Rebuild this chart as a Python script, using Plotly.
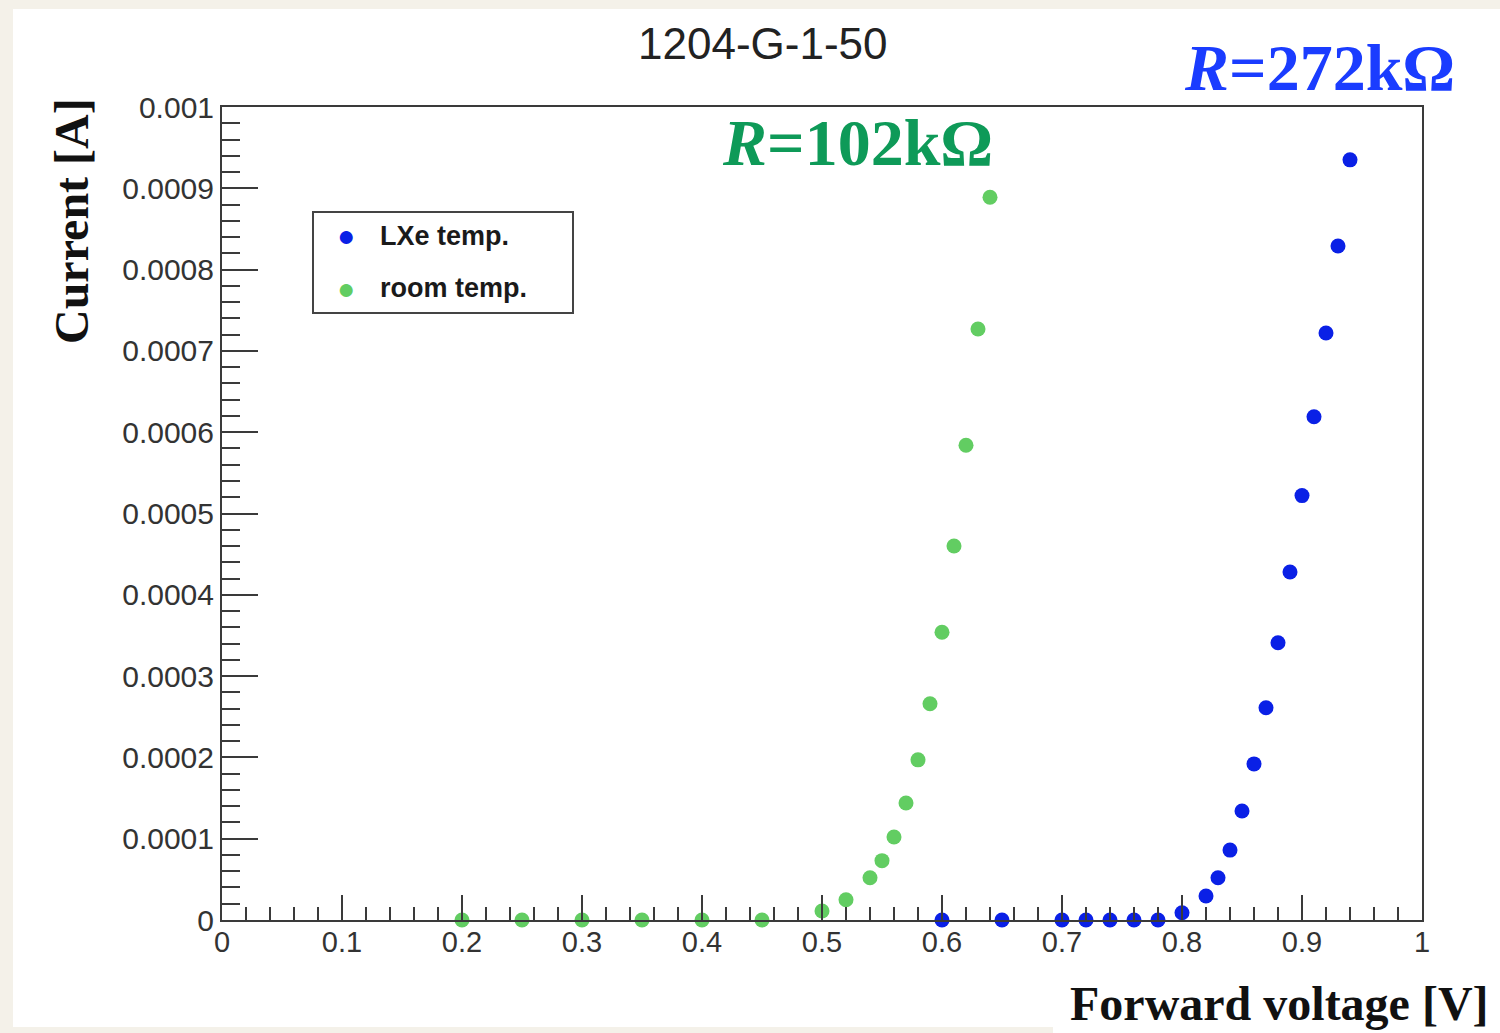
import plotly.graph_objects as go

# Forward I-V scan of diode 1204-G-1-50 at two temperatures
room_v = [0.20, 0.25, 0.30, 0.35, 0.40, 0.45, 0.50, 0.52, 0.54, 0.55, 0.56,
          0.57, 0.58, 0.59, 0.60, 0.61, 0.62, 0.63, 0.64]
room_i = [0.0, 0.0, 0.0, 0.0, 0.0, 0.0, 1.1e-5, 2.5e-5, 5.2e-5, 7.3e-5, 1.02e-4,
          1.44e-4, 1.97e-4, 2.66e-4, 3.54e-4, 4.60e-4, 5.84e-4, 7.27e-4, 8.89e-4]

lxe_v = [0.60, 0.65, 0.70, 0.72, 0.74, 0.76, 0.78, 0.80, 0.82, 0.83, 0.84,
         0.85, 0.86, 0.87, 0.88, 0.89, 0.90, 0.91, 0.92, 0.93, 0.94]
lxe_i = [0.0, 0.0, 0.0, 0.0, 0.0, 0.0, 0.0, 9e-6, 2.95e-5, 5.2e-5, 8.6e-5,
         1.34e-4, 1.92e-4, 2.61e-4, 3.41e-4, 4.28e-4, 5.22e-4, 6.19e-4, 7.22e-4,
         8.29e-4, 9.35e-4]

series_names = ["LXe temp.", "room temp."]

y_tickvals = [0.0, 0.0001, 0.0002, 0.0003, 0.0004, 0.0005, 0.0006, 0.0007,
              0.0008, 0.0009, 0.001]
y_ticktext = ["0", "0.0001", "0.0002", "0.0003", "0.0004", "0.0005", "0.0006",
              "0.0007", "0.0008", "0.0009", "0.001"]
x_tickvals = [0, 0.1, 0.2, 0.3, 0.4, 0.5, 0.6, 0.7, 0.8, 0.9, 1.0]
x_ticktext = ["0", "0.1", "0.2", "0.3", "0.4", "0.5", "0.6", "0.7", "0.8", "0.9", "1"]

W, H = 1500, 1033
L, R, T, B = 222, 78, 107, 113
PW, PH = W - L - R, H - T - B


def px(x):
    return (x - L) / PW


def py(y):
    return (H - B - y) / PH


BLUE = "#0a20e6"
GREEN = "#62cd62"
AXIS = "#3a3a3a"
SANS = "Liberation Sans, Arial, sans-serif"
SERIF = "Liberation Serif, Times New Roman, serif"

fig = go.Figure()
fig.add_trace(go.Scatter(
    x=lxe_v, y=lxe_i, mode="markers", name=series_names[0],
    marker=dict(color=BLUE, size=15, line=dict(width=0)), cliponaxis=False))
fig.add_trace(go.Scatter(
    x=room_v, y=room_i, mode="markers", name=series_names[1],
    marker=dict(color=GREEN, size=15, line=dict(width=0)), cliponaxis=False))


def ann(text, x, y, size, color, family=SANS, weight="normal", xanchor="center", angle=0):
    return dict(text=text, x=px(x), y=py(y), xref="paper", yref="paper",
                showarrow=False, xanchor=xanchor, yanchor="middle", textangle=angle,
                font=dict(family=family, size=size, color=color, weight=weight))


# boxed legend in the upper-left part of the frame
legend_items = []
for name, colr, yy in [(series_names[0], BLUE, 236), (series_names[1], GREEN, 288)]:
    legend_items.append(ann("●", 346, yy, 30, colr))
    legend_items.append(ann(name, 378, yy, 27, "#1a1a1a", weight="bold", xanchor="left"))

fig.update_layout(
    width=W, height=H,
    margin=dict(l=L, r=R, t=T, b=B),
    paper_bgcolor="#f4f1e9",
    plot_bgcolor="white",
    showlegend=False,
    xaxis=dict(
        range=[0, 1], showgrid=False, zeroline=False,
        showline=True, linecolor=AXIS, linewidth=2, mirror=True,
        ticks="inside", ticklen=25, tickwidth=2, tickcolor=AXIS,
        tickvals=x_tickvals, ticktext=x_ticktext, ticklabelstandoff=-5,
        tickfont=dict(family=SANS, size=29, color="#333"),
        minor=dict(dtick=0.02, ticks="inside", ticklen=13, tickwidth=2, tickcolor=AXIS),
    ),
    yaxis=dict(
        range=[0, 0.001], showgrid=False, zeroline=False,
        showline=True, linecolor=AXIS, linewidth=2, mirror=True,
        ticks="inside", ticklen=36, tickwidth=2, tickcolor=AXIS,
        tickvals=y_tickvals, ticktext=y_ticktext,
        tickfont=dict(family=SANS, size=30, color="#333"),
        minor=dict(dtick=0.00002, ticks="inside", ticklen=18, tickwidth=2, tickcolor=AXIS),
    ),
    shapes=[
        dict(type="rect", xref="paper", yref="paper", layer="below",
             x0=px(13), x1=px(W), y0=py(1027), y1=py(9),
             fillcolor="white", line=dict(width=0)),
        dict(type="rect", xref="paper", yref="paper", layer="below",
             x0=px(1053), x1=px(W), y0=py(H), y1=py(983),
             fillcolor="white", line=dict(width=0)),
        dict(type="rect", xref="paper", yref="paper", layer="above",
             x0=px(313), x1=px(573), y0=py(313), y1=py(212),
             fillcolor="rgba(0,0,0,0)", line=dict(color="#444", width=2)),
    ],
    annotations=[
        ann("1204-G-1-50", 762, 44, 44, "#222"),
        ann("<i>R</i>=272kΩ", 1457, 67, 66, "#1a3cff", SERIF, "bold", "right"),
        ann("<i>R</i>=102kΩ", 720, 143, 66, "#0e9a58", SERIF, "bold", "left"),
        ann("Current [A]", 71, 221, 48, "#111", SERIF, "bold", angle=-90),
        ann("Forward voltage [V]", 1279, 1003, 48, "#111", SERIF, "bold"),
    ] + legend_items,
)

fig.write_html("out.html")
